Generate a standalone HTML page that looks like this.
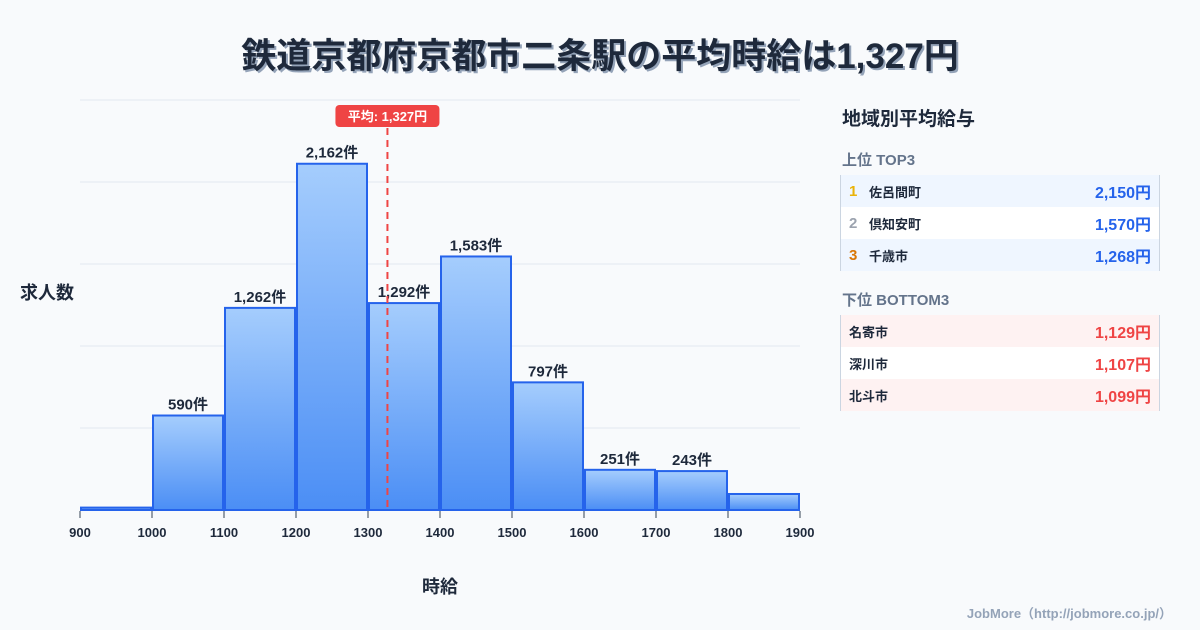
<!DOCTYPE html>
<html><head><meta charset="utf-8"><style>
body{margin:0;width:1200px;height:630px;background:#f8fafc;font-family:"Liberation Sans","Noto Sans CJK JP",sans-serif;position:relative;overflow:hidden;color:#1e293b}
.t{position:absolute;left:0;width:1200px;top:28px;text-align:center;font-size:35px;font-weight:bold;color:#1e293b;text-shadow:2px 2px 0 #94a3b8}
.panel{position:absolute;left:840px;top:100px;width:320px}
.ph{font-size:19px;font-weight:bold;margin:4px 0 0 2px}
.sh{font-size:15px;font-weight:bold;color:#64748b;margin:18px 0 5px 2px}
.row{height:32px;display:flex;align-items:center;font-size:13px;font-weight:bold;border-left:1px solid #cbd5e1;border-right:1px solid #cbd5e1;padding:0 8px}
.row .n{width:20px;font-size:15px}
.row .v{margin-left:auto;font-size:16px}
</style></head><body>
<div class="t">鉄道京都府京都市二条駅の平均時給は1,327円</div>
<svg id="c" width="820" height="630" style="position:absolute;left:0;top:0">
<defs><linearGradient id="g" x1="0" y1="0" x2="0" y2="1"><stop offset="0" stop-color="#a5cdfd"/><stop offset="1" stop-color="#4b8ef5"/></linearGradient></defs>
</svg>
<div class="panel">
<div class="ph">地域別平均給与</div>
<div class="sh">上位 TOP3</div>
<div class="row" style="background:#eff6ff"><span class="n" style="color:#eab308">1</span>佐呂間町<span class="v" style="color:#2563eb">2,150円</span></div>
<div class="row" style="background:#fff"><span class="n" style="color:#9ca3af">2</span>倶知安町<span class="v" style="color:#2563eb">1,570円</span></div>
<div class="row" style="background:#eff6ff"><span class="n" style="color:#d97706">3</span>千歳市<span class="v" style="color:#2563eb">1,268円</span></div>
<div class="sh">下位 BOTTOM3</div>
<div class="row" style="background:#fef2f2">名寄市<span class="v" style="color:#ef4444">1,129円</span></div>
<div class="row" style="background:#fff">深川市<span class="v" style="color:#ef4444">1,107円</span></div>
<div class="row" style="background:#fef2f2">北斗市<span class="v" style="color:#ef4444">1,099円</span></div>
</div>
<div style="position:absolute;right:28px;top:603px;font-size:13px;font-weight:bold;color:#94a3b8">JobMore（http://jobmore.co.jp/）</div>
<script>
const binStarts=[900,1000,1100,1200,1300,1400,1500,1600,1700,1800];
const counts=[15,590,1262,2162,1292,1583,797,251,243,100];
const labels=["","590件","1,262件","2,162件","1,292件","1,583件","797件","251件","243件",""];
const xTicks=[900,1000,1100,1200,1300,1400,1500,1600,1700,1800,1900];
const avg=1327;
const yMax=2560;
const NS="http://www.w3.org/2000/svg",s=document.getElementById('c');
const X=v=>80+(v-900)*0.72, Y=v=>510-v/yMax*410;
function mk(t,a,p){const e=document.createElementNS(NS,t);for(const k in a)e.setAttribute(k,a[k]);(p||s).appendChild(e);return e;}
for(let i=0;i<=5;i++){const l=mk('line',{x1:80,x2:800,y1:510-i*82,y2:510-i*82,stroke:'#e2e8f0'});}
binStarts.forEach((b,i)=>{
const y=Y(counts[i]);
const r=mk('rect',{x:X(b)+1,y:y,width:70,height:510-y,fill:'url(#g)',stroke:'#2563eb','stroke-width':2});

if(labels[i]){const t=mk('text',{x:X(b)+36,y:y-6,'text-anchor':'middle','font-size':15,'font-weight':'bold',fill:'#1e293b'});t.textContent=labels[i];}
});
xTicks.forEach(v=>{mk('line',{x1:X(v),x2:X(v),y1:511,y2:518,stroke:'#334155'});const t=mk('text',{x:X(v),y:537,'text-anchor':'middle','font-size':13,'font-weight':'bold',fill:'#1e293b'});t.textContent=v;});
const ax=X(avg);
const al=mk('line',{x1:ax,x2:ax,y1:128,y2:510,stroke:'#ef4444','stroke-width':2,'stroke-dasharray':'7,5'});
const bx=mk('rect',{x:ax-52,y:105,width:104,height:22,rx:4,fill:'#ef4444'});
const bt=mk('text',{x:ax,y:121,'text-anchor':'middle','font-size':13,'font-weight':'bold',fill:'#fff'});bt.textContent='平均: 1,327円';
const yt=mk('text',{x:20,y:299,'font-size':18,'font-weight':'bold',fill:'#1e293b'});yt.textContent='求人数';
const xt=mk('text',{x:440,y:593,'text-anchor':'middle','font-size':18,'font-weight':'bold',fill:'#1e293b'});xt.textContent='時給';
</script>
</body></html>
